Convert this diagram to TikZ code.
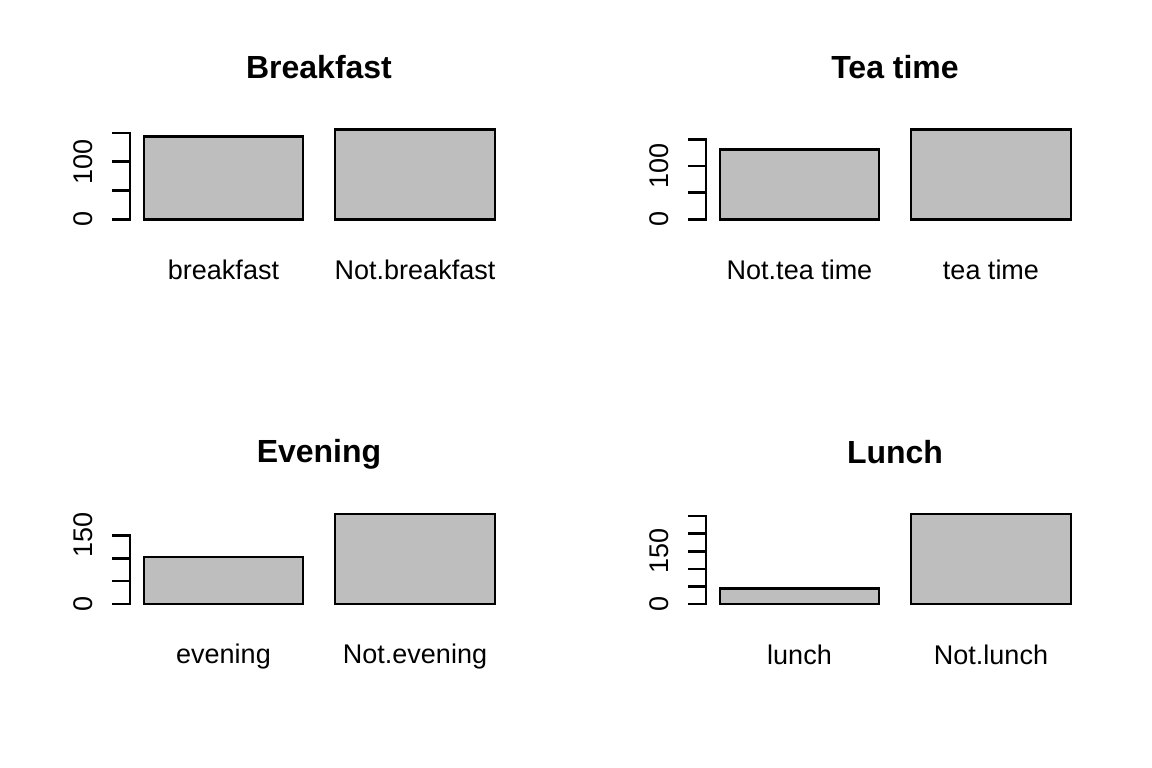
\documentclass[tikz,border=0pt]{standalone}
\usepackage{fontspec}
\setmainfont{Liberation Sans}
\usepackage{xcolor}
\definecolor{barfill}{HTML}{BEBEBE}

\tikzset{
  bar/.style={draw=black, fill=barfill, line width=2.6pt},
  axisline/.style={draw=black, line width=2.6pt, line cap=rect},
  paneltitle/.style={font=\fontsize{32}{38}\selectfont\bfseries, inner sep=0pt},
  barlabel/.style={font=\fontsize{27}{32}\selectfont, inner sep=0pt},
  ylabel/.style={font=\fontsize{27}{32}\selectfont, inner sep=0pt, rotate=90}
}

\begin{document}
\begin{tikzpicture}[x=1pt, y=-1pt]
       \useasboundingbox (0,0) rectangle (1152,768);

       % Breakfast
       \begin{scope}[shift={(130,219.3)}, y=0.5756pt]
       \draw[bar] (14,0) rectangle (173,144);
       \draw[bar] (205,0) rectangle (365,156);
       \draw[axisline] (0,0) -- (0,150);
       \foreach \t in {0,50,100,150} \draw[axisline] (0,\t) -- (-17,\t);
       \node[ylabel] (b0) at (-47,0) {0};
       \node[ylabel] (b100) at (-47,100) {100};
       \node[barlabel] (blab1) at (93.5,-88) {breakfast};
       \node[barlabel] (blab2) at (285,-88) {Not.breakfast};
       \node[paneltitle] (btitle) at (189,264.6) {Breakfast};
       \end{scope}

       % Tea time
       \begin{scope}[shift={(706,219.3)}, y=0.5314pt]
       \draw[bar] (14,0) rectangle (173,131);
       \draw[bar] (205,0) rectangle (365,169);
       \draw[axisline] (0,0) -- (0,150);
       \foreach \t in {0,50,100,150} \draw[axisline] (0,\t) -- (-17,\t);
       \node[ylabel] (t0) at (-47,0) {0};
       \node[ylabel] (t100) at (-47,100) {100};
       \node[barlabel] (tlab1) at (93.5,-95.4) {Not.tea time};
       \node[barlabel] (tlab2) at (285,-95.4) {tea time};
       \node[paneltitle] (ttitle) at (189,286.6) {Tea time};
       \end{scope}

       % Evening
       \begin{scope}[shift={(130,604)}, y=0.4569pt]
       \draw[bar] (14,0) rectangle (173,103);
       \draw[bar] (205,0) rectangle (365,197);
       \draw[axisline] (0,0) -- (0,150);
       \foreach \t in {0,50,100,150} \draw[axisline] (0,\t) -- (-17,\t);
       \node[ylabel] (e0) at (-47,0) {0};
       \node[ylabel] (e150) at (-47,150) {150};
       \node[barlabel] (elab1) at (93.5,-115) {evening};
       \node[barlabel] (elab2) at (285,-115) {Not.evening};
       \node[paneltitle] (etitle) at (189,328.3) {Evening};
       \end{scope}

       % Lunch
       \begin{scope}[shift={(706,604)}, y=0.3516pt]
       \draw[bar] (14,0) rectangle (173,44);
       \draw[bar] (205,0) rectangle (365,256);
       \draw[axisline] (0,0) -- (0,250);
       \foreach \t in {0,50,...,250} \draw[axisline] (0,\t) -- (-17,\t);
       \node[ylabel] (l0) at (-47,0) {0};
       \node[ylabel] (l150) at (-47,150) {150};
       \node[barlabel] (llab1) at (93.5,-144.2) {lunch};
       \node[barlabel] (llab2) at (285,-144.2) {Not.lunch};
       \node[paneltitle] (ltitle) at (189,433.1) {Lunch};
       \end{scope}
\end{tikzpicture}
\end{document}
